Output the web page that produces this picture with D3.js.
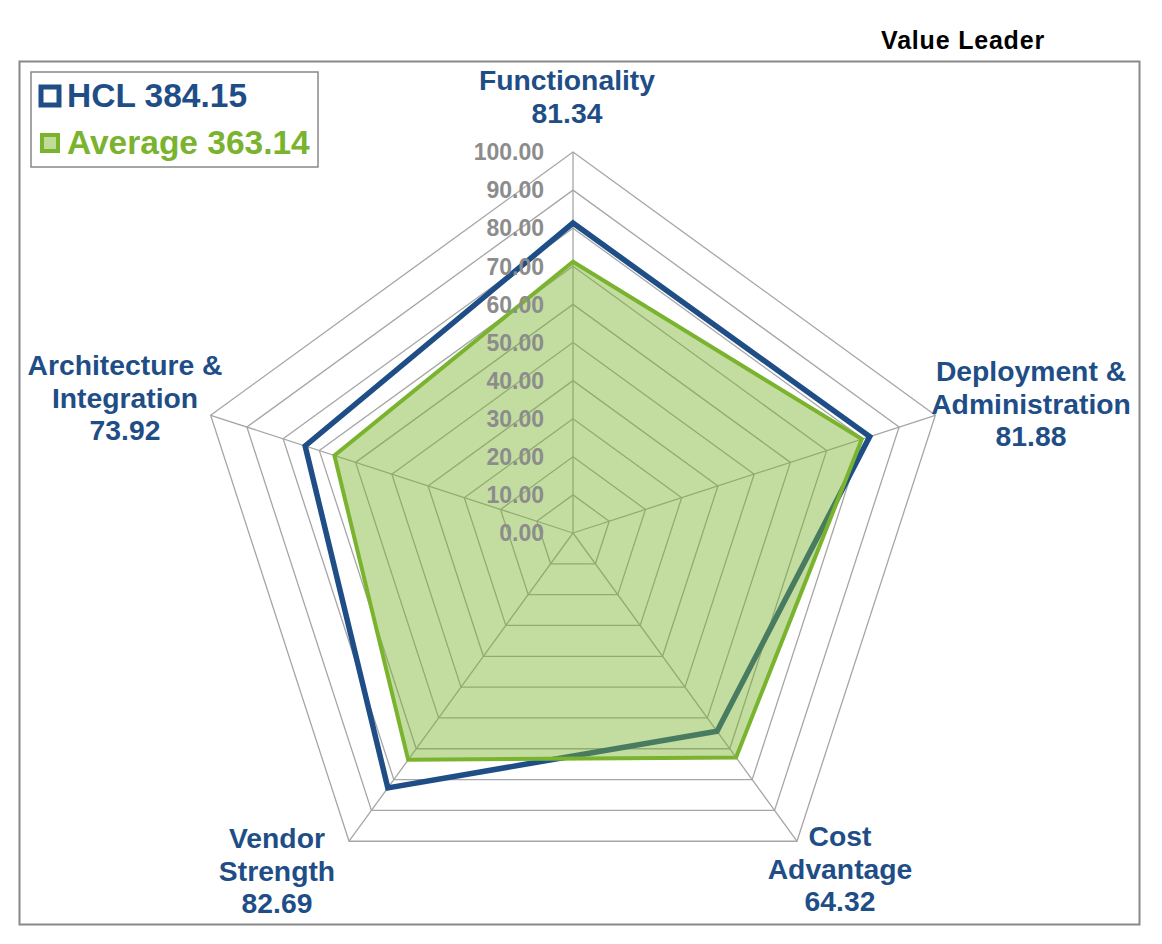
<!DOCTYPE html>
<html>
<head>
<meta charset="utf-8">
<script src="https://cdn.jsdelivr.net/npm/d3@7"></script>
<style>
  html, body { margin: 0; padding: 0; background: #fff; }
  svg { display: block; font-family: "Liberation Sans", Arial, sans-serif; }
</style>
</head>
<body>
<svg id="chart" width="1162" height="944"></svg>
<script>
// axes, clockwise from the top
const axisNames = [
  ["Functionality"],
  ["Deployment &", "Administration"],
  ["Cost", "Advantage"],
  ["Vendor", "Strength"],
  ["Architecture &", "Integration"]
];
const hclValues     = [81.34, 81.88, 64.32, 82.69, 73.92];
const averageValues = [71.2, 79.7, 72.8, 73.6, 65.84];
const tickValues    = [0, 10, 20, 30, 40, 50, 60, 70, 80, 90, 100];
const legendItems   = ["HCL 384.15", "Average 363.14"];

const blue  = "#1f4e87";
const green = "#7ab32e";
const grid  = "#a6a6a6";

const svg = d3.select("#chart");
const cx = 573, cy = 533;

const r = d3.scaleLinear().domain([0, 100]).range([0, 381]);
const angle = d3.scaleLinear().domain([0, axisNames.length]).range([0, 2 * Math.PI]);

const pt = (i, v) => {
  const a = angle(i);
  return [cx + r(v) * Math.sin(a), cy - r(v) * Math.cos(a)];
};

const ring = (vals) => d3.line()(vals.map((v, i) => pt(i, v))) + "Z";

// frame
svg.append("rect")
  .attr("x", 19.5).attr("y", 61.5).attr("width", 1120).attr("height", 863)
  .attr("fill", "none").attr("stroke", "#888").attr("stroke-width", 2);

svg.append("text")
  .attr("x", 963).attr("y", 49)
  .attr("text-anchor", "middle")
  .attr("font-size", 25).attr("font-weight", "bold").attr("fill", "#000")
  .attr("letter-spacing", 0.8)
  .text("Value Leader");

// grid
const gridG = svg.append("g");
gridG.selectAll("path.ring")
  .data(tickValues.slice(1))
  .join("path")
  .attr("d", t => ring(axisNames.map(() => t)))
  .attr("fill", "none").attr("stroke", grid).attr("stroke-width", 1.3);

gridG.selectAll("line.spoke")
  .data(axisNames)
  .join("line")
  .attr("x1", cx).attr("y1", cy)
  .attr("x2", (d, i) => pt(i, 100)[0])
  .attr("y2", (d, i) => pt(i, 100)[1])
  .attr("stroke", grid).attr("stroke-width", 1.3);

// HCL series
svg.append("path")
  .attr("d", ring(hclValues))
  .attr("fill", "none").attr("stroke", blue)
  .attr("stroke-width", 5.5).attr("stroke-linejoin", "miter");

// Average series (semi-transparent fill over HCL)
svg.append("path")
  .attr("d", ring(averageValues))
  .attr("fill", green).attr("fill-opacity", 0.45)
  .attr("stroke", green).attr("stroke-width", 4).attr("stroke-linejoin", "miter");

// tick labels
svg.selectAll("text.tick")
  .data(tickValues)
  .join("text")
  .attr("x", 544)
  .attr("y", t => cy - r(t))
  .attr("dy", "0.36em")
  .attr("text-anchor", "end")
  .attr("font-size", 23).attr("font-weight", "bold")
  .attr("fill", "#8c8c8c")
  .text(t => t.toFixed(2));

// axis labels
const labelPos = [
  { x: 567,  y: 90,  anchor: "middle" },
  { x: 1031, y: 381, anchor: "middle" },
  { x: 840,  y: 846, anchor: "middle" },
  { x: 277,  y: 848, anchor: "middle" },
  { x: 125,  y: 375, anchor: "middle" }
];
axisNames.forEach((lines, i) => {
  const p = labelPos[i];
  const t = svg.append("text")
    .attr("x", p.x).attr("y", p.y)
    .attr("text-anchor", p.anchor)
    .attr("font-size", 28.3).attr("font-weight", "bold")
    .attr("fill", blue);
  lines.concat([hclValues[i].toFixed(2)]).forEach((s, j) => {
    t.append("tspan").attr("x", p.x).attr("dy", j ? 32.5 : 0).text(s);
  });
});

// legend
const leg = svg.append("g");
leg.append("rect")
  .attr("x", 31).attr("y", 72).attr("width", 287).attr("height", 95)
  .attr("fill", "#fff").attr("stroke", "#888").attr("stroke-width", 1.5);

leg.append("rect")
  .attr("x", 41).attr("y", 87).attr("width", 18).attr("height", 18)
  .attr("fill", "#fff").attr("stroke", blue).attr("stroke-width", 5);
leg.append("rect")
  .attr("x", 42).attr("y", 135).attr("width", 16).attr("height", 16)
  .attr("fill", "#c2db98").attr("stroke", green).attr("stroke-width", 4);

leg.selectAll("text")
  .data(legendItems)
  .join("text")
  .attr("x", 67)
  .attr("y", (d, i) => 107 + i * 47)
  .attr("font-size", 33.5).attr("font-weight", "bold")
  .attr("fill", (d, i) => i ? green : blue)
  .text(d => d);
</script>
</body>
</html>
